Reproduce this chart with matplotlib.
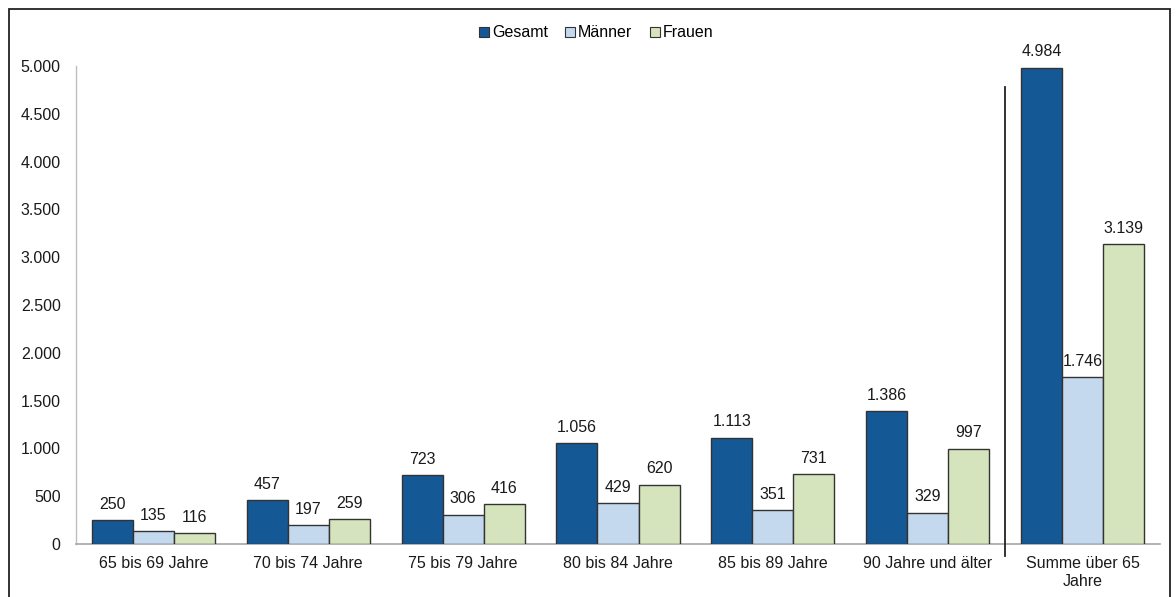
import numpy as np
import matplotlib.pyplot as plt
from matplotlib.patches import Rectangle

plt.rcParams['font.family'] = ['Liberation Sans', 'DejaVu Sans']

# Daten
kategorien = ["65 bis 69 Jahre", "70 bis 74 Jahre", "75 bis 79 Jahre", "80 bis 84 Jahre",
              "85 bis 89 Jahre", "90 Jahre und älter", "Summe über 65\nJahre"]
gesamt = [250, 457, 723, 1056, 1113, 1386, 4984]
maenner = [135, 197, 306, 429, 351, 329, 1746]
frauen = [116, 259, 416, 620, 731, 997, 3139]

serien = ["Gesamt", "Männer", "Frauen"]
farben = ["#155896", "#c5d9ee", "#d6e4bd"]

def fmt(v):
    return f"{v:,}".replace(",", ".")

fs = 11.5

fig = plt.figure(figsize=(11.76, 5.97), dpi=100)
ax = fig.add_axes([0.0646, 0.0888, 0.9218, 0.8006])

x = np.arange(len(kategorien))
breite = 0.265
for i, (werte, farbe) in enumerate(zip([gesamt, maenner, frauen], farben)):
    pos = x + (i - 1) * breite
    ax.bar(pos, werte, breite, color=farbe, edgecolor="#333333", linewidth=1.0, zorder=3)
    for p, v in zip(pos, werte):
        ax.annotate(fmt(v), (p, v), xytext=(0, 6), textcoords="offset points",
                    ha="center", va="bottom", fontsize=fs, color="#1a1a1a")

ax.set_xlim(-0.5, len(kategorien) - 0.5)
ax.set_ylim(0, 5000)
ax.set_yticks(np.arange(0, 5001, 500))
ax.set_yticklabels([fmt(v) for v in range(0, 5001, 500)], fontsize=fs, color="#1a1a1a")
ax.set_xticks(x)
ax.set_xticklabels(kategorien, fontsize=fs, color="#1a1a1a")
ax.tick_params(axis="both", length=0)
ax.tick_params(axis="y", pad=11)
ax.tick_params(axis="x", pad=9)

for s in ["top", "right"]:
    ax.spines[s].set_visible(False)
ax.spines["left"].set_color("#bfbfbf")
ax.spines["bottom"].set_color("#a6a6a6")
ax.spines["left"].set_linewidth(1.0)
ax.spines["bottom"].set_linewidth(1.2)

# Trennlinie vor der Summe
ax.plot([5.5, 5.5], [4780, -130], color="#222222", linewidth=1.3, clip_on=False, zorder=4)

# Legende
handles = [Rectangle((0, 0), 1, 1, facecolor=f, edgecolor="#333333", linewidth=0.8) for f in farben]
fig.legend(handles, serien, loc="center", bbox_to_anchor=(0.507, 0.945), ncol=3, frameon=False,
           fontsize=fs, handlelength=0.6, handleheight=0.6, handletextpad=0.2, columnspacing=1.1)

# Rahmen
fig.patches.append(Rectangle((9 / 1176, -0.05), 1161 / 1176, 1.05 - 9 / 597, transform=fig.transFigure,
                             fill=False, edgecolor="#222222", linewidth=1.3))

fig.savefig("out.png", dpi=100)
